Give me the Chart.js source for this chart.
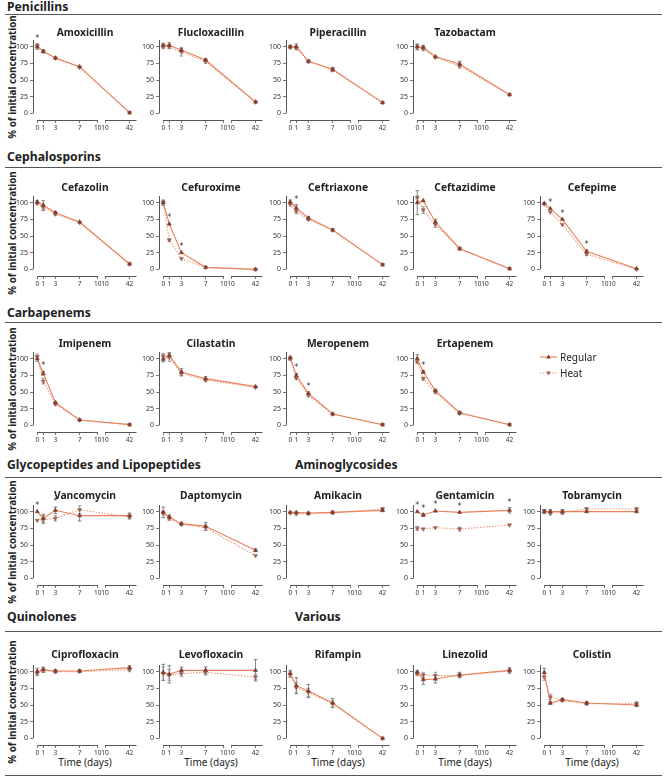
<!DOCTYPE html>
<html>
<head>
<meta charset="utf-8">
<script src="https://cdn.jsdelivr.net/npm/chart.js@4.4.1/dist/chart.umd.min.js"></script>
<style>
  body { margin: 0; width: 667px; height: 777px; position: relative; background: #fff; overflow: hidden; font-family: "Noto Sans", sans-serif; color: #222; }
  .hdr { position: absolute; font-weight: bold; font-size: 12.2px; line-height: 16px; white-space: nowrap; }
  .rule { position: absolute; left: 5px; width: 657px; border-top: 1.5px solid #555; }
  .ttl { position: absolute; width: 104px; text-align: center; font-weight: bold; font-size: 10.3px; line-height: 14px; white-space: nowrap; }
  .ylab { position: absolute; width: 150px; height: 14px; line-height: 14px; text-align: center; font-weight: bold; font-size: 9.8px; transform: rotate(-90deg); white-space: nowrap; }
  .xlab { position: absolute; width: 104px; text-align: center; font-size: 10px; line-height: 14px; }
  .leg { position: absolute; font-size: 10px; line-height: 14px; display: flex; align-items: center; }
  canvas { position: absolute; }
</style>
</head>
<body>
<script>
// time points (days) and the broken x axis labels
const days = [0, 1, 3, 7, 42];
const xTickLabels = ['0', '1', '3', '7', '10', '10', '42'];
const yTicks = [0, 25, 50, 75, 100];

const drugs = [
  'Amoxicillin', 'Flucloxacillin', 'Piperacillin', 'Tazobactam',
  'Cefazolin', 'Cefuroxime', 'Ceftriaxone', 'Ceftazidime', 'Cefepime',
  'Imipenem', 'Cilastatin', 'Meropenem', 'Ertapenem',
  'Vancomycin', 'Daptomycin', 'Amikacin', 'Gentamicin', 'Tobramycin',
  'Ciprofloxacin', 'Levofloxacin', 'Rifampin', 'Linezolid', 'Colistin'
];

// % of initial concentration, regular storage
const regular = [
  [100, 93, 83, 70, 1], [102, 102, 95, 80, 17], [100, 100, 78, 66, 16], [100, 99, 85, 74, 28],
  [101, 96, 85, 71, 8], [100, 68, 25, 3, 0], [101, 92, 77, 59, 7], [100, 103, 71, 31, 1], [99, 91, 75, 27, 1],
  [100, 78, 34, 8, 1], [99, 105, 80, 70, 58], [101, 75, 48, 17, 1], [100, 80, 52, 19, 1],
  [100, 90, 102, 94, 94], [99, 92, 82, 78, 42], [99, 99, 98, 99, 102], [100, 95, 101, 99, 102], [100, 100, 100, 100, 100],
  [100, 103, 101, 101, 106], [99, 96, 102, 102, 102], [97, 79, 71, 53, 0], [99, 88, 89, 95, 102], [99, 53, 58, 53, 50]
];
const regularErr = [
  [4, 2, 1, 1, 1], [3, 4, 3, 2, 1], [2, 4, 2, 3, 1], [4, 3, 1, 4, 1],
  [2, 7, 2, 1, 1], [4, 1, 1, 1, 1], [3, 5, 2, 1, 1], [18, 1, 4, 1, 1], [1, 1, 1, 2, 1],
  [4, 3, 2, 1, 1], [4, 4, 5, 3, 1], [3, 3, 2, 1, 1], [6, 2, 2, 2, 1],
  [1, 6, 5, 8, 4], [8, 3, 2, 6, 2], [1, 1, 1, 2, 2], [1, 2, 1, 1, 4], [3, 3, 3, 1, 1],
  [5, 4, 2, 2, 3], [12, 13, 5, 5, 16], [5, 12, 10, 7, 1], [3, 7, 6, 4, 4], [6, 2, 2, 2, 2]
];

// % of initial concentration, heat exposure
const heat = [
  [101, 93, 83, 69, 1], [100, 100, 92, 78, 17], [99, 98, 78, 65, 16], [99, 97, 84, 71, 28],
  [99, 93, 83, 70, 8], [100, 44, 16, 3, 0], [98, 87, 75, 59, 7], [108, 89, 67, 31, 1], [98, 86, 67, 23, 0],
  [103, 66, 32, 8, 1], [104, 102, 78, 68, 57], [100, 71, 45, 17, 1], [96, 70, 50, 18, 1],
  [87, 88, 90, 103, 92], [98, 90, 81, 76, 34], [98, 97, 97, 98, 104], [75, 74, 76, 74, 80], [101, 98, 99, 104, 104],
  [98, 102, 100, 100, 103], [97, 95, 97, 99, 92], [96, 76, 69, 52, 0], [97, 95, 94, 94, 101], [92, 62, 57, 52, 52]
];
const heatErr = [
  [3, 2, 1, 1, 1], [3, 3, 6, 3, 1], [2, 2, 2, 2, 1], [4, 3, 1, 3, 1],
  [2, 5, 2, 1, 1], [3, 2, 1, 1, 1], [3, 3, 2, 1, 1], [2, 5, 4, 2, 1], [1, 1, 1, 2, 1],
  [4, 4, 2, 1, 1], [4, 6, 4, 2, 1], [2, 2, 2, 1, 1], [3, 2, 2, 2, 1],
  [1, 6, 4, 6, 3], [3, 3, 2, 4, 1], [1, 2, 2, 1, 2], [3, 1, 1, 3, 1], [2, 3, 3, 2, 2],
  [4, 3, 2, 1, 3], [10, 8, 4, 4, 4], [4, 8, 6, 5, 1], [3, 4, 5, 3, 3], [5, 4, 2, 2, 3]
];

// days with a significant difference (*)
const stars = [
  [0], [], [], [],
  [], [1, 3], [1], [], [1, 3, 7],
  [1], [], [1, 3], [1],
  [0, 3], [], [], [0, 1, 3, 7, 42], [],
  [], [], [], [], []
];

const groups = ['Penicillins', 'Cephalosporins', 'Carbapenems', 'Glycopeptides and Lipopeptides', 'Aminoglycosides', 'Quinolones', 'Various'];

// layout
const panelRow = [0,0,0,0, 1,1,1,1,1, 2,2,2,2, 3,3,3,3,3, 4,4,4,4,4];
const panelCol = [0,1,2,3, 0,1,2,3,4, 0,1,2,3, 0,1,2,3,4, 0,1,2,3,4];
const colLeft = [33, 159, 286, 413, 540];
const rowTop = [40, 196, 352, 505, 665];
const titleY = [32, 187, 343, 495, 654];
const groupPos = [[7, 7], [7, 157], [7, 313], [7, 465], [295, 465], [7, 617], [295, 617]];
const ruleY = [14, 167, 322, 477, 631, 775];
const PLOT_W = 104, PLOT_H = 80, AXIS_W = 26, AXIS_H = 14, PAD_TOP = 10, PAD_RIGHT = 4;

const LINE = '#e8825c';
const LINE_HEAT = '#eb9878';
const MARK = '#7d3b2d';
const MARK_HEAT = '#9c6252';

// broken x axis: 0-10, a small gap, then 10-42 compressed
const SEG2_START = 11.2, SEG2_SCALE = 0.1266;
function tx(d) {
    return d <= 10 ? d : SEG2_START + (d - 10) * SEG2_SCALE;
}

function addDiv(cls, text, left, top) {
    const el = document.createElement('div');
    el.className = cls;
    el.textContent = text;
    el.style.left = left + 'px';
    el.style.top = top + 'px';
    document.body.appendChild(el);
    return el;
}

const brokenAxes = {
    id: 'brokenAxes',
    beforeDatasetsDraw(chart) {
        const { ctx, chartArea, scales: { x, y } } = chart;
        ctx.save();
        ctx.strokeStyle = '#555';
        ctx.lineWidth = 1;
        const yb = Math.round(chartArea.bottom) + 0.5;
        const xl = Math.round(chartArea.left) + 0.5;
        ctx.beginPath();
        ctx.moveTo(x.getPixelForValue(0), yb);
        ctx.lineTo(x.getPixelForValue(10), yb);
        ctx.moveTo(x.getPixelForValue(SEG2_START), yb);
        ctx.lineTo(chartArea.right, yb);
        ctx.moveTo(xl, y.getPixelForValue(0));
        ctx.lineTo(xl, chartArea.top);
        ctx.stroke();
        ctx.restore();
    }
};

const errorBars = {
    id: 'errorBars',
    beforeDatasetsDraw(chart) {
        const { ctx, scales: { y } } = chart;
        chart.data.datasets.forEach((ds, i) => {
            const meta = chart.getDatasetMeta(i);
            ctx.save();
            ctx.strokeStyle = ds.errorColor;
            ctx.lineWidth = 0.8;
            meta.data.forEach((pt, j) => {
                const e = ds.errors[j];
                if (!e || e < 2) return;
                const v = ds.data[j].y;
                const y1 = y.getPixelForValue(v - e);
                const y2 = y.getPixelForValue(v + e);
                ctx.beginPath();
                ctx.moveTo(pt.x, y1); ctx.lineTo(pt.x, y2);
                ctx.moveTo(pt.x - 1.8, y1); ctx.lineTo(pt.x + 1.8, y1);
                ctx.moveTo(pt.x - 1.8, y2); ctx.lineTo(pt.x + 1.8, y2);
                ctx.stroke();
            });
            ctx.restore();
        });
    }
};

const starMarks = {
    id: 'starMarks',
    afterDatasetsDraw(chart, args, opts) {
        const { ctx, scales: { x, y } } = chart;
        ctx.save();
        ctx.fillStyle = '#333';
        ctx.font = '8px "DejaVu Sans", sans-serif';
        ctx.textAlign = 'center';
        ctx.textBaseline = 'middle';
        (opts.days || []).forEach(d => {
            const j = days.indexOf(d);
            let top = -Infinity;
            chart.data.datasets.forEach(ds => {
                top = Math.max(top, ds.data[j].y + (ds.errors[j] || 0));
            });
            ctx.fillText('*', x.getPixelForValue(tx(d)), y.getPixelForValue(top) - 5);
        });
        ctx.restore();
    }
};

function makeChart(k) {
    const r = panelRow[k], c = panelCol[k];
    const left = colLeft[c], top = rowTop[r];

    const canvas = document.createElement('canvas');
    canvas.width = AXIS_W + PLOT_W + PAD_RIGHT;
    canvas.height = PAD_TOP + PLOT_H + AXIS_H;
    canvas.style.left = (left - AXIS_W) + 'px';
    canvas.style.top = (top - PAD_TOP) + 'px';
    document.body.appendChild(canvas);

    addDiv('ttl', drugs[k], left, titleY[r] - 7);

    const toPoints = vals => days.map((d, i) => ({ x: tx(d), y: vals[i] }));

    new Chart(canvas, {
        type: 'line',
        data: {
            datasets: [
                {
                    label: 'Regular',
                    data: toPoints(regular[k]),
                    errors: regularErr[k],
                    errorColor: '#666',
                    borderColor: LINE,
                    borderWidth: 1.1,
                    pointStyle: 'triangle',
                    pointRadius: 2.4,
                    pointBackgroundColor: MARK,
                    pointBorderColor: MARK,
                    pointBorderWidth: 0.5,
                    tension: 0
                },
                {
                    label: 'Heat',
                    data: toPoints(heat[k]),
                    errors: heatErr[k],
                    errorColor: '#888',
                    borderColor: LINE_HEAT,
                    borderWidth: 1.1,
                    borderDash: [1.5, 1.5],
                    pointStyle: 'triangle',
                    rotation: 180,
                    pointRadius: 2.4,
                    pointBackgroundColor: MARK_HEAT,
                    pointBorderColor: MARK_HEAT,
                    pointBorderWidth: 0.5,
                    tension: 0
                }
            ]
        },
        options: {
            responsive: false,
            animation: false,
            devicePixelRatio: 1,
            layout: { padding: { top: PAD_TOP, right: PAD_RIGHT, left: 0, bottom: 0 } },
            scales: {
                x: {
                    type: 'linear',
                    min: -0.7,
                    max: 16.4,
                    afterBuildTicks: s => { s.ticks = [0, 1, 3, 7, 10, SEG2_START, tx(42)].map(v => ({ value: v })); },
                    afterFit: s => { s.height = AXIS_H; },
                    ticks: {
                        autoSkip: false,
                        maxRotation: 0,
                        padding: 1,
                        color: '#333',
                        font: { size: 6.5, family: '"Noto Sans", sans-serif' },
                        callback: (v, i) => xTickLabels[i]
                    },
                    grid: { display: true, drawOnChartArea: false, drawTicks: true, tickLength: 3, color: '#555', lineWidth: 0.8 },
                    border: { display: false }
                },
                y: {
                    min: -10,
                    max: 110,
                    afterBuildTicks: s => { s.ticks = yTicks.map(v => ({ value: v })); },
                    afterFit: s => { s.width = AXIS_W; },
                    ticks: {
                        padding: 2,
                        color: '#333',
                        font: { size: 7, family: '"Noto Sans", sans-serif' }
                    },
                    grid: { display: true, drawOnChartArea: false, drawTicks: true, tickLength: 3, color: '#555', lineWidth: 0.8 },
                    border: { display: false }
                }
            },
            plugins: {
                legend: { display: false },
                tooltip: { enabled: false },
                starMarks: { days: stars[k] }
            }
        },
        plugins: [brokenAxes, errorBars, starMarks]
    });
}

// headers and rules
groups.forEach((g, i) => addDiv('hdr', g, groupPos[i][0], groupPos[i][1] - 8));
ruleY.forEach(y => addDiv('rule', '', 5, y));

// y axis titles, one per row
rowTop.forEach(t => addDiv('ylab', '% of initial concentration', 13 - 75, t + 37 - 7));

// x axis titles under the last row
colLeft.forEach(l => addDiv('xlab', 'Time (days)', l, 755));

drugs.forEach((d, k) => makeChart(k));

// legend
const legItems = [
    { label: 'Regular', dash: '', rot: 0, color: LINE, mark: MARK, y: 357 },
    { label: 'Heat', dash: '1.5 1.5', rot: 180, color: LINE_HEAT, mark: MARK_HEAT, y: 373 }
];
legItems.forEach(it => {
    const el = addDiv('leg', '', 540, it.y - 7);
    el.innerHTML =
        '<svg width="18" height="10" style="margin-right:2px">' +
        '<line x1="0" y1="5" x2="17" y2="5" stroke="' + it.color + '" stroke-width="1.1"' +
        (it.dash ? ' stroke-dasharray="' + it.dash + '"' : '') + '/>' +
        '<polygon points="8.5,2.6 10.8,6.6 6.2,6.6" fill="' + it.mark + '" transform="rotate(' + it.rot + ' 8.5 5)"/>' +
        '</svg><span>' + it.label + '</span>';
});
</script>
</body>
</html>
